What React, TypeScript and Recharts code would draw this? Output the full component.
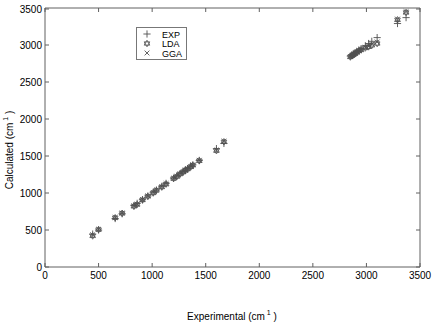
import React from "react";
import { ScatterChart, Scatter, XAxis, YAxis, Legend } from "recharts";

// experimental frequencies (cm-1), also used as the EXP "calculated" value
const expFreq = [
  445, 500, 655, 720, 830, 860, 910, 960, 1010, 1040, 1090, 1130, 1200, 1230,
  1260, 1290, 1310, 1330, 1360, 1380, 1440, 1600, 1670, 2850, 2865, 2880,
  2895, 2910, 2930, 2950, 2990, 3020, 3050, 3100, 3290, 3370,
];
const ldaFreq = [
  420, 505, 665, 725, 820, 845, 905, 955, 1000, 1035, 1080, 1120, 1195, 1222,
  1255, 1282, 1305, 1322, 1352, 1375, 1435, 1572, 1692, 2838, 2855, 2870,
  2885, 2900, 2920, 2935, 2960, 2975, 2995, 3020, 3340, 3440,
];
const ggaFreq = [
  435, 510, 670, 730, 828, 850, 912, 962, 1008, 1042, 1088, 1128, 1200, 1228,
  1262, 1290, 1312, 1330, 1360, 1382, 1442, 1580, 1700, 2845, 2860, 2875,
  2890, 2905, 2925, 2940, 2970, 2985, 3010, 3040, 3350, 3450,
];
const axisTicks = [0, 500, 1000, 1500, 2000, 2500, 3000, 3500];
const seriesNames = ["EXP", "LDA", "GGA"];

const expData = expFreq.map((v) => ({ x: v, y: v }));
const ldaData = expFreq.map((v, i) => ({ x: v, y: ldaFreq[i] }));
const ggaData = expFreq.map((v, i) => ({ x: v, y: ggaFreq[i] }));

const ink = "#505050";
const axisInk = "#606060";
const font = "'Liberation Sans', Arial, sans-serif";

function PlusMark({ cx, cy }: any) {
  const h = 3.6;
  return (
    <g stroke={ink} strokeWidth={0.9}>
      <line x1={cx - h} y1={cy} x2={cx + h} y2={cy} />
      <line x1={cx} y1={cy - h} x2={cx} y2={cy + h} />
    </g>
  );
}

function HexMark({ cx, cy }: any) {
  const r = 3.3;
  const tri = (start: number) =>
    [0, 120, 240]
      .map((a) => {
        const t = ((start + a) * Math.PI) / 180;
        return `${cx + r * Math.cos(t)},${cy + r * Math.sin(t)}`;
      })
      .join(" ");
  return (
    <g stroke={ink} strokeWidth={0.8} fill="none">
      <polygon points={tri(-90)} />
      <polygon points={tri(90)} />
    </g>
  );
}

function CrossMark({ cx, cy }: any) {
  const h = 2.4;
  return (
    <g stroke={ink} strokeWidth={0.9}>
      <line x1={cx - h} y1={cy - h} x2={cx + h} y2={cy + h} />
      <line x1={cx - h} y1={cy + h} x2={cx + h} y2={cy - h} />
    </g>
  );
}

const NoMark = () => <g />;

const marks = [PlusMark, HexMark, CrossMark];

function LegendBox() {
  return (
    <svg width={51} height={33} style={{ display: "block" }}>
      <rect x={0.5} y={0.5} width={50} height={32} fill="#fff" stroke="#777" />
      {seriesNames.map((name, i) => {
        const Mark = marks[i];
        const y = 7 + i * 9.5;
        return (
          <g key={name}>
            <Mark cx={11} cy={y} />
            <text x={26} y={y + 3.5} fontSize={9} fontFamily={font} fill="#000">
              {name}
            </text>
          </g>
        );
      })}
    </svg>
  );
}

// ticks drawn inside the box, MATLAB style
function BottomTick({ x, y, payload }: any) {
  return (
    <g>
      <line x1={x} y1={y} x2={x} y2={y - 4} stroke={axisInk} />
      <text x={x} y={y + 12} textAnchor="middle" fontSize={10} fontFamily={font} fill="#000">
        {payload.value}
      </text>
    </g>
  );
}
function LeftTick({ x, y, payload }: any) {
  return (
    <g>
      <line x1={x} y1={y} x2={x + 4} y2={y} stroke={axisInk} />
      <text x={x - 3} y={y + 3.5} textAnchor="end" fontSize={10} fontFamily={font} fill="#000">
        {payload.value}
      </text>
    </g>
  );
}
function TopTick({ x, y }: any) {
  return <line x1={x} y1={y} x2={x} y2={y + 4} stroke={axisInk} />;
}
function RightTick({ x, y }: any) {
  return <line x1={x} y1={y} x2={x - 4} y2={y} stroke={axisInk} />;
}

export default function App() {
  return (
    <div style={{ position: "absolute", left: 0, top: 0, width: 436, height: 327, background: "#fff" }}>
      <ScatterChart width={436} height={327} margin={{ top: 7, right: 15, bottom: 30, left: 0 }}>
        <XAxis
          xAxisId="b"
          type="number"
          dataKey="x"
          domain={[0, 3500]}
          ticks={axisTicks}
          tickSize={0}
          tickMargin={0}
          tickLine={false}
          height={30}
          stroke={axisInk}
          tick={BottomTick}
          label={{
            content: () => (
              <text x={232} y={320} textAnchor="middle" fontSize={10} fontFamily={font} fill="#000">
                Experimental (cm
                <tspan fontSize={7} dy={-5}> 1</tspan>
                <tspan dy={5}> )</tspan>
              </text>
            ),
          }}
        />
        <XAxis
          xAxisId="t"
          orientation="top"
          type="number"
          dataKey="x"
          domain={[0, 3500]}
          ticks={axisTicks}
          tickSize={0}
          tickMargin={0}
          tickLine={false}
          height={1}
          stroke={axisInk}
          tick={TopTick}
        />
        <YAxis
          yAxisId="l"
          type="number"
          dataKey="y"
          domain={[0, 3500]}
          ticks={axisTicks}
          tickSize={0}
          tickMargin={0}
          tickLine={false}
          width={45}
          stroke={axisInk}
          tick={LeftTick}
          label={{
            content: () => (
              <text
                x={13}
                y={150}
                transform="rotate(-90 13 150)"
                textAnchor="middle"
                fontSize={10}
                fontFamily={font}
                fill="#000"
              >
                Calculated (cm
                <tspan fontSize={7} dy={-5}> 1</tspan>
                <tspan dy={5}> )</tspan>
              </text>
            ),
          }}
        />
        <YAxis
          yAxisId="r"
          orientation="right"
          type="number"
          dataKey="y"
          domain={[0, 3500]}
          ticks={axisTicks}
          tickSize={0}
          tickMargin={0}
          tickLine={false}
          width={1}
          stroke={axisInk}
          tick={RightTick}
        />
        <Legend
          verticalAlign="middle"
          layout="horizontal"
          content={() => <LegendBox />}
          wrapperStyle={{ left: 136, top: 27, width: 51, height: 33 }}
        />
        <Scatter name="EXP" data={expData} xAxisId="b" yAxisId="l" shape={PlusMark} isAnimationActive={false} />
        <Scatter name="LDA" data={ldaData} xAxisId="b" yAxisId="l" shape={HexMark} isAnimationActive={false} />
        <Scatter name="GGA" data={ggaData} xAxisId="b" yAxisId="l" shape={CrossMark} isAnimationActive={false} />
        <Scatter name="box" data={expData} xAxisId="t" yAxisId="r" shape={NoMark} legendType="none" isAnimationActive={false} />
      </ScatterChart>
    </div>
  );
}
